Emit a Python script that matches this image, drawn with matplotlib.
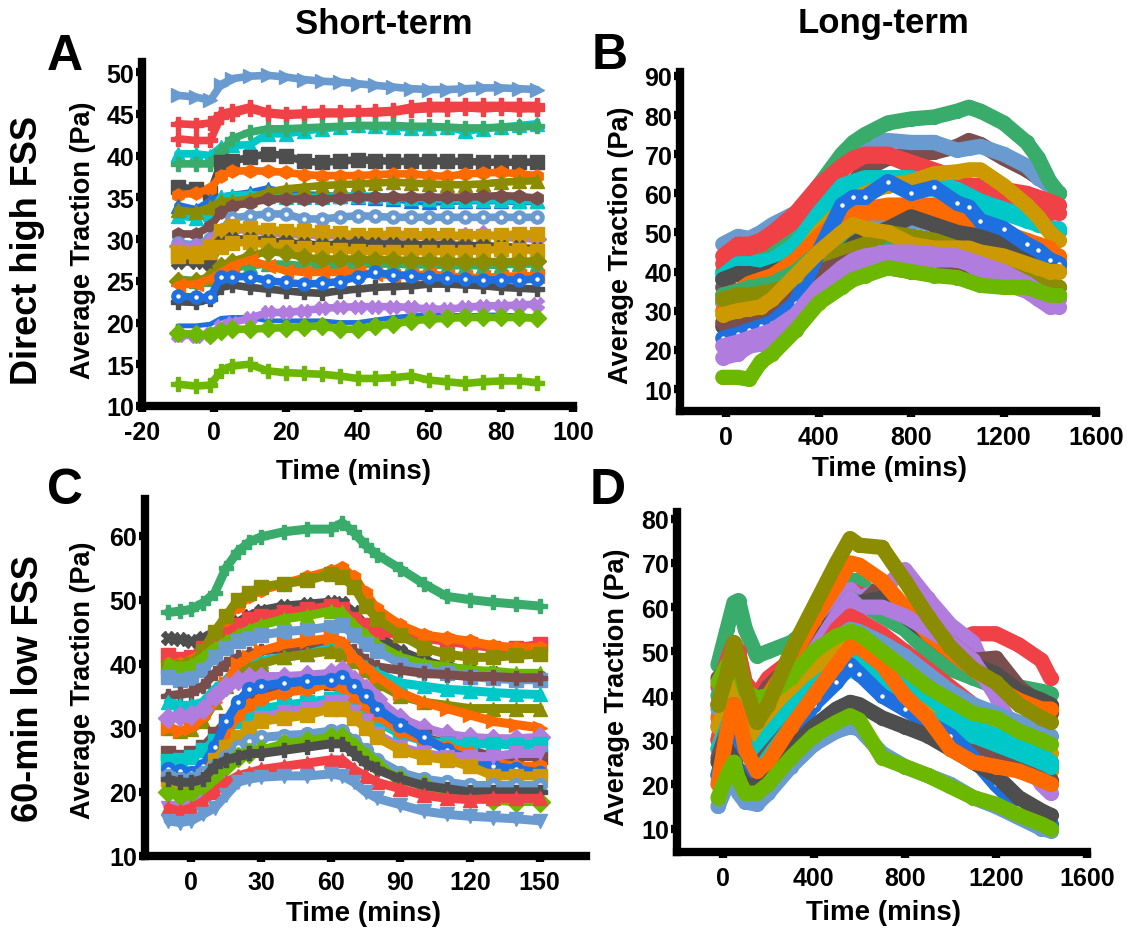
import matplotlib
matplotlib.use("Agg")
import matplotlib.pyplot as plt

plt.rcParams["font.family"] = ["Liberation Sans", "DejaVu Sans"]
plt.rcParams["font.weight"] = "bold"
plt.rcParams["axes.unicode_minus"] = False

W, H = 1131, 937

# ---------------- data ----------------
# Panel A: short-term, direct high FSS
t_a = [-10, -5, -1, 2, 5, 10, 15, 20, 25, 30, 35, 40, 45, 50, 55, 60, 65, 70, 75, 80, 85, 90]
a_series = [
    [47.2, 47.0, 46.6, 48.5, 49.2, 49.5, 49.6, 49.4, 49.1, 48.9, 48.8, 48.6, 48.4, 48.2, 48.0, 47.9, 47.9, 48.0, 48.1, 48.1, 48.0, 47.9],
    [42.0, 41.8, 41.8, 44.6, 45.0, 45.6, 45.0, 44.8, 44.9, 45.0, 45.0, 45.1, 45.1, 45.2, 45.5, 45.6, 45.6, 45.7, 45.6, 45.7, 45.6, 45.6],
    [43.8, 43.7, 43.9, 45.0, 45.3, 45.8, 45.2, 45.0, 45.1, 45.2, 45.2, 45.2, 45.3, 45.4, 45.8, 46.0, 46.0, 46.0, 46.0, 46.0, 46.0, 46.0],
    [40.2, 40.2, 40.0, 41.0, 41.2, 41.3, 42.6, 42.6, 42.9, 43.2, 43.4, 43.6, 43.5, 43.4, 43.3, 43.3, 43.4, 42.9, 43.2, 43.4, 43.6, 43.8],
    [39.0, 39.0, 39.0, 40.5, 42.0, 42.8, 43.2, 43.2, 43.3, 43.4, 43.5, 43.6, 43.6, 43.6, 43.5, 43.5, 43.4, 43.3, 43.3, 43.4, 43.4, 43.5],
    [36.2, 36.0, 35.5, 39.2, 39.3, 39.8, 40.2, 40.0, 39.3, 39.2, 39.3, 39.5, 39.4, 39.3, 39.3, 39.4, 39.3, 39.3, 39.2, 39.2, 39.2, 39.2],
    [35.3, 35.5, 36.0, 37.6, 38.1, 38.2, 38.1, 38.0, 37.7, 37.6, 37.6, 37.6, 37.7, 37.8, 37.8, 37.6, 37.5, 37.8, 37.9, 38.0, 37.8, 37.6],
    [34.0, 33.5, 34.5, 35.0, 35.2, 35.5, 36.0, 35.5, 35.3, 35.2, 35.1, 35.0, 34.9, 34.8, 34.6, 34.4, 34.5, 34.6, 34.6, 34.6, 34.5, 34.5],
    [32.8, 32.5, 33.0, 35.0, 35.2, 35.3, 35.2, 35.0, 35.0, 35.0, 35.1, 35.2, 35.1, 35.0, 34.9, 34.8, 34.7, 34.7, 34.7, 34.7, 34.6, 34.6],
    [33.5, 33.2, 33.8, 34.5, 34.5, 34.8, 35.6, 36.0, 36.2, 36.4, 36.5, 36.6, 36.7, 36.8, 36.7, 36.6, 36.5, 36.5, 36.6, 36.8, 36.9, 37.0],
    [30.6, 30.6, 31.5, 33.2, 34.0, 34.3, 34.8, 34.8, 34.8, 34.8, 34.9, 35.0, 35.0, 35.0, 35.0, 35.0, 35.0, 35.0, 35.1, 35.2, 35.1, 34.9],
    [29.5, 29.3, 30.0, 31.0, 32.5, 32.8, 33.0, 33.0, 32.4, 32.4, 32.6, 32.8, 32.7, 32.6, 32.6, 32.6, 32.6, 32.6, 32.6, 32.6, 32.6, 32.6],
    [29.2, 29.0, 29.6, 30.8, 31.2, 31.0, 30.8, 30.6, 30.5, 30.4, 30.4, 30.3, 30.3, 30.2, 30.3, 30.3, 30.2, 30.4, 30.6, 30.2, 30.1, 30.0],
    [28.5, 28.3, 29.0, 31.0, 31.5, 31.3, 31.1, 31.0, 30.9, 30.8, 30.7, 30.5, 30.5, 30.6, 30.5, 30.5, 30.5, 30.4, 30.4, 30.5, 30.6, 30.6],
    [27.3, 27.2, 27.0, 29.5, 30.0, 30.0, 29.8, 29.6, 29.4, 29.3, 29.4, 29.5, 29.4, 29.4, 29.3, 29.3, 29.3, 29.2, 29.2, 29.1, 29.0, 28.8],
    [28.0, 28.0, 28.5, 29.0, 29.5, 29.6, 29.3, 29.0, 28.9, 28.8, 28.7, 28.6, 28.5, 28.5, 28.5, 28.5, 28.5, 28.5, 28.6, 28.8, 28.7, 28.6],
    [25.2, 25.0, 25.2, 26.0, 26.5, 26.8, 27.0, 27.0, 26.8, 26.8, 26.8, 26.9, 27.0, 27.0, 26.9, 26.9, 26.8, 26.8, 26.8, 26.9, 27.0, 27.0],
    [25.0, 25.0, 25.5, 26.8, 27.3, 28.0, 28.5, 28.3, 27.8, 27.6, 27.6, 27.6, 27.5, 27.5, 27.4, 27.4, 27.3, 27.3, 27.3, 27.3, 27.3, 27.4],
    [24.5, 24.6, 25.2, 26.0, 26.8, 27.5, 26.8, 26.2, 26.0, 26.0, 26.0, 26.0, 25.8, 25.6, 25.7, 25.8, 25.6, 25.4, 25.4, 25.5, 25.6, 25.6],
    [22.5, 22.4, 22.8, 24.2, 24.5, 24.2, 24.0, 23.8, 23.6, 23.5, 23.8, 24.0, 24.2, 24.3, 24.4, 24.6, 24.6, 24.5, 24.4, 24.2, 24.1, 24.0],
    [23.2, 23.0, 23.0, 25.5, 25.5, 25.5, 25.0, 24.8, 24.6, 24.7, 24.9, 25.5, 26.0, 25.7, 25.6, 25.4, 25.3, 25.2, 25.1, 25.1, 25.1, 25.2],
    [19.6, 19.6, 19.8, 20.5, 20.6, 20.6, 20.2, 20.2, 20.2, 20.2, 20.0, 20.0, 20.3, 20.6, 20.8, 21.0, 20.9, 20.8, 20.9, 20.9, 20.8, 20.7],
    [18.5, 18.4, 18.6, 19.6, 20.0, 20.5, 21.2, 21.2, 21.4, 21.7, 21.8, 21.9, 21.9, 21.9, 21.8, 21.6, 21.6, 21.8, 22.0, 22.0, 22.1, 22.2],
    [18.7, 18.6, 18.5, 19.0, 19.2, 19.2, 19.3, 19.4, 19.5, 19.6, 19.2, 19.2, 19.6, 19.8, 20.2, 20.4, 20.5, 20.6, 20.6, 20.6, 20.6, 20.5],
    [12.6, 12.4, 12.5, 14.2, 14.8, 15.0, 14.2, 14.0, 13.9, 13.8, 13.6, 13.3, 13.3, 13.4, 13.6, 13.1, 12.9, 12.7, 12.9, 13.0, 13.0, 12.8],
]

# Panel B: long-term, direct high FSS
t_b = [-15, 50, 100, 150, 200, 300, 400, 500, 550, 600, 700, 800, 900, 1000, 1050, 1100, 1200, 1300, 1350, 1400, 1440]
b_series = [
    [36, 35, 35, 36, 38, 44, 52, 60, 63, 66, 69, 70, 70.5, 72, 73.5, 72.5, 69, 66, 64, 62, 60],
    [47, 49, 48.5, 50, 52, 55, 60, 68, 72, 73, 73.5, 73, 73, 71, 71.5, 72, 70, 67, 64, 62, 60],
    [40, 43, 44, 45, 46, 53, 62, 70, 73, 75, 78, 79, 79.5, 81, 82, 81, 78, 73, 69, 63, 60],
    [44, 47, 47, 48, 50, 55, 62, 67, 69, 70, 70, 68, 66, 64, 62, 62, 61, 60, 59, 58, 57],
    [42, 46, 46, 47, 49, 53, 60, 66, 68, 69.5, 69.5, 67, 64, 62, 61, 60, 59, 57.5, 56, 55, 55],
    [39, 42, 42, 42.5, 43, 47, 55, 62, 63, 64, 64, 64, 63, 61, 59.5, 58, 56, 54, 52.5, 51, 51],
    [38, 41, 41, 42, 43, 46, 52, 58, 60, 62, 63, 62, 61, 59, 58, 57, 55, 53, 52, 51, 50],
    [32, 33, 34, 35, 36, 42, 50, 56, 58, 60, 62, 63, 65, 65.5, 66, 66, 62, 57, 54, 50, 48],
    [38, 39.5, 39.5, 39, 40, 42, 45, 48, 49, 50, 50, 49, 48, 47, 46.5, 46, 45, 44, 43.5, 43, 43],
    [32, 33, 33, 33.5, 35, 39, 45, 49, 51, 52, 54, 53, 52, 50, 49, 48, 46, 44, 43, 42, 41],
    [34, 35, 37, 38, 39, 43, 49, 54, 55, 56, 57, 57, 57, 54, 53, 52, 50, 48, 47, 46, 43],
    [30, 31, 32, 33, 35, 40, 47, 52, 54, 55, 55, 54, 53, 52, 51, 50, 49, 47, 46, 45, 44],
    [34, 35, 36, 36.5, 37, 40, 45, 48, 49, 50, 48, 46, 45, 44, 43, 42, 41, 39, 38, 37, 36],
    [26, 27, 28, 28.5, 29, 33, 40, 44, 47, 49, 51, 54, 52, 50, 49.5, 49, 47, 45, 44, 43, 42],
    [33, 34, 34, 34.5, 35, 37, 42, 45, 46, 47, 50, 49, 48, 46, 45, 44, 43, 40, 39, 37, 36],
    [27, 28, 29, 30, 31, 35, 40, 42, 43, 42, 41, 40, 40, 39, 38, 38, 37, 36, 35, 34, 34],
    [23, 24, 25, 26, 27, 32, 45, 57, 59, 59, 63, 60, 61.5, 57.5, 56.5, 53, 51, 47, 45.5, 43, 42],
    [29, 30, 30.5, 31, 33, 39, 45, 50, 52, 51, 50, 47, 46, 46, 46, 45, 44, 42, 41, 40, 40],
    [21, 22, 23, 24, 25, 29, 36, 41, 43, 44, 45, 45, 44.5, 44, 43, 42, 40, 37, 35, 34, 33],
    [18, 19, 21, 21.5, 22, 25, 33, 38, 40, 41, 43, 43.5, 43, 43, 42, 40, 37, 35, 33, 31, 31],
    [13, 13, 12.5, 17, 19, 25, 32, 36, 38, 39, 41, 40, 39, 38.5, 37.5, 36.5, 36, 36, 35, 34, 34],
]

# Panel C: short-term, 60-min low FSS
t_c = [-10, -5, 0, 5, 10, 15, 20, 25, 30, 40, 50, 60, 65, 70, 75, 80, 90, 100, 110, 120, 130, 140, 150]
c_series = [
    [48, 48.2, 48.5, 49.5, 51, 55, 57.5, 59, 59.8, 60.6, 61, 61, 62, 60.5, 58.5, 57, 54.8, 52.5, 50.5, 50, 49.6, 49.3, 49],
    [44, 43.8, 43.5, 44, 45, 46, 46.5, 47.5, 48.3, 49, 49.3, 49.6, 49.5, 48, 46, 44.5, 42, 40.5, 39.5, 39, 38.5, 38, 37.8],
    [41.3, 40.8, 41, 42.5, 44, 45, 46, 47, 47.5, 48, 48.5, 49, 48.5, 47, 46, 45, 44.5, 44, 43.5, 43, 42.5, 42.5, 43],
    [40, 40, 40.5, 42, 45, 47, 49, 50.5, 51.5, 52.5, 53.5, 54.5, 55, 53.5, 51, 48.5, 46, 44.5, 44, 43.5, 42.8, 42.5, 42.5],
    [39.5, 39.5, 40, 42, 45, 47.5, 50, 51, 52, 52.5, 53, 54, 53.5, 52, 49, 47, 44.5, 42.5, 41.5, 41, 41, 41.3, 41.5],
    [40, 39.5, 39.8, 41, 42.5, 43.5, 44.5, 45.3, 46, 47, 47.5, 48.2, 48, 46, 44.5, 43, 41, 40, 39.5, 39, 38.8, 38.5, 38.5],
    [38, 37.5, 37.8, 39, 41, 42.5, 43.5, 44, 44.5, 45, 45.3, 45.8, 46, 44.5, 43, 42, 40, 39, 38.5, 38, 37.7, 37.5, 37.5],
    [35, 35.2, 35.5, 36.5, 38.5, 40, 41, 41.5, 42, 42.3, 42.5, 42.8, 43, 42, 40.5, 39.5, 39, 38.5, 38.3, 38, 38, 37.8, 37.8],
    [34, 33.5, 33.5, 34, 36, 37.5, 39, 40, 40.5, 41, 41.5, 42.5, 43, 41, 39.5, 38.5, 37, 36.5, 36, 35.8, 35.5, 35.3, 35.2],
    [30, 29.5, 29.8, 31, 34, 36.5, 38.5, 39.3, 40, 41, 41.5, 42, 41.5, 40.5, 39, 37, 35, 34, 33.5, 33, 33, 33, 33],
    [30, 29.5, 30, 31.5, 34, 37, 40, 41, 42, 43, 43.5, 44, 43.5, 41, 39.5, 38, 35.5, 34, 33, 32, 31, 30.5, 30],
    [31.5, 31.8, 32, 33, 35, 36.5, 37.5, 38, 38, 38, 38.2, 38.5, 39, 37.5, 36, 34.5, 31.5, 30, 29, 28.5, 28.3, 28.3, 28.5],
    [26, 25.5, 26, 27, 29, 31, 33, 34, 35, 36, 36.5, 37, 36.5, 35.5, 34, 32, 30, 28.5, 27.5, 26.5, 25.5, 25.5, 25.5],
    [24.8, 25, 25.5, 26.5, 28, 29.5, 31, 32, 33, 33.5, 34, 34.5, 35, 34, 32.5, 31, 29, 28, 27.5, 27.5, 27.5, 27.3, 27.5],
    [21, 20.5, 20.5, 22, 25, 29, 32, 33.5, 34.5, 35.5, 36, 37, 36.5, 35, 33.5, 32, 29.5, 28, 27, 26, 24.5, 24, 24],
    [23.5, 23.2, 23, 24, 27, 31, 34, 36, 36.5, 37, 37.3, 37.5, 38, 36.5, 35, 33, 30.5, 28.5, 26.5, 25, 24, 23.5, 23],
    [17.5, 17.5, 18, 19, 21, 24, 28, 30, 31.5, 32.5, 33, 34, 34, 32.5, 31, 29, 27, 26, 25.5, 25.5, 25.5, 26, 26],
    [22, 21.5, 21.5, 22.5, 25, 27, 28.5, 30, 31, 31.5, 32, 33, 33, 31.5, 30, 28.5, 26.5, 25.5, 25, 24, 22.5, 22.5, 22.5],
    [22.5, 22, 22, 23, 24, 25.5, 27, 28, 28.5, 28.8, 29, 29.5, 29.5, 28, 26.5, 25, 23, 22, 21.5, 21, 21, 21, 21],
    [20, 19.5, 20, 21, 22, 24, 25.5, 26, 26.5, 27.5, 28, 28.5, 28.5, 27, 25.5, 24, 22, 21, 19.5, 19, 18.7, 18.5, 18.5],
    [22, 21.5, 21.5, 22, 24, 25, 25.5, 26, 26, 26.5, 27, 27.5, 27.5, 26, 24.5, 23.5, 22, 21, 20.5, 20, 20, 20, 20],
    [17.5, 17, 17.5, 18.5, 20, 21.5, 22.5, 23, 23.5, 24, 24.5, 25, 25, 23.5, 22.5, 21.5, 20.5, 19.5, 19, 18.8, 19, 19, 19],
    [15.5, 15.2, 15.5, 16.5, 17.5, 19.5, 21.5, 22, 22.3, 22.5, 22.5, 22.8, 22.5, 21.5, 20, 19, 18, 17, 16.5, 16.2, 16, 15.8, 15.5],
]

# Panel D: long-term, 60-min low FSS
t_d = [-20, 20, 50, 70, 100, 150, 200, 300, 400, 500, 560, 600, 700, 800, 900, 1000, 1100, 1200, 1300, 1400, 1440]
d_series = [
    [47, 55, 61, 61.5, 55, 49, 50, 52, 56, 63, 66, 66, 60, 57, 52, 48, 46, 44, 42, 41, 40.5],
    [42, 48, 52, 50, 43, 40, 44, 48, 55, 62, 64, 63, 61, 59, 55, 52, 54, 54, 51.5, 48, 44],
    [33, 45, 49, 45, 38, 33, 37, 46, 55, 62, 64, 62, 64, 68.5, 62, 56, 52, 40, 28, 20, 18],
    [44, 46, 48, 46, 41, 38, 42, 47, 52, 56, 59, 60, 65, 60, 55, 52, 48, 48.5, 42, 38, 36],
    [40, 45, 48, 46, 40, 36, 39, 45, 52, 58, 62, 61, 58, 55, 50, 46, 44, 42, 40, 39, 38],
    [38, 42, 45, 43, 38, 35, 38, 44, 52, 58, 61, 61, 62, 58, 54, 50, 47, 45, 41, 39, 38],
    [35, 45, 50, 47, 40, 36, 40, 48, 57, 65, 70, 69.5, 66, 60, 54, 50, 46, 42, 39, 37, 37],
    [30, 38, 42, 40, 34, 30, 34, 42, 50, 58, 62, 60, 60, 58, 55, 52, 48, 40, 30, 22, 20],
    [30, 40, 44, 42, 35, 30, 33, 40, 47, 55, 58, 57, 54, 50, 46, 42, 38, 34, 30, 27, 25],
    [37, 40, 44, 42, 36, 33, 36, 43, 49, 53, 55, 54.5, 52, 49, 45, 41, 38, 36, 34, 32, 31],
    [33, 38, 42, 40, 34, 31, 35, 41, 47, 52, 54, 53, 50, 46, 42, 38, 35, 32, 30, 28, 27],
    [28, 34, 37, 35, 29, 26, 30, 38, 44, 48, 49, 50, 47, 43, 38, 34, 30, 28, 27, 25, 23],
    [28, 33, 37, 34, 29, 27, 31, 37, 42, 46, 48, 48, 46, 42, 40, 36, 33, 31, 30, 27, 25],
    [26, 32, 35, 33, 27, 24, 27, 33, 39, 44, 46, 45, 41, 38, 34, 31, 29, 27, 24, 22, 21],
    [22, 30, 34, 32, 26, 22, 26, 33, 39, 44, 46, 45, 42, 39, 35, 33, 31, 29, 27, 25, 24],
    [22, 30, 38, 33, 25, 21, 23, 30, 38, 43, 47, 45, 40, 37, 34, 31, 26, 20, 15, 12, 11],
    [25, 28, 25, 22, 20, 19.5, 22, 28, 33, 37, 38.5, 38, 35, 33, 31, 28, 25, 22, 17, 14, 13],
    [20, 32, 38, 36, 28, 23, 25, 33, 40, 47, 51, 51, 47, 40, 35, 28, 25, 24, 23, 21, 20],
    [15, 20, 24, 18, 16, 15.5, 18, 24, 29, 32, 33, 32.5, 27, 24, 22, 20, 17, 15, 12.5, 10, 9.5],
    [17, 22, 25, 21, 18, 18, 20, 26, 31, 34, 35.5, 34.5, 26, 24, 22, 19.5, 17, 15.5, 13, 11, 10],
    [43, 47, 49, 46, 41, 39.5, 40, 44, 50, 53.5, 54.5, 54, 50, 46, 42, 39, 36, 35, 32, 30, 29],
    [38, 45, 52, 48, 42, 34, 38, 50, 60, 70, 75.5, 74, 73.5, 66, 58, 51, 46, 43, 38, 35, 34],
]

# ---------------- styles ----------------
COL = {
    "ltblue": "#6A9BD0", "red": "#EF4146", "green": "#39AC6C", "cyan": "#00C8C8",
    "grey": "#4E4E4E", "orange": "#FF6A00", "blue": "#1E6FDF", "olive": "#8C8C00",
    "brown": "#7B4E4E", "purple": "#B07CDD", "gold": "#CC9A00", "lime": "#6CB800",
}

a_styles = [
    ("ltblue", ">"), ("red", "P"), ("red", "P"), ("cyan", "^"), ("green", "P"),
    ("grey", "s"), ("orange", "h"), ("blue", "^"), ("cyan", "^"), ("olive", "^"),
    ("brown", "h"), ("ltblue", "dot"), ("purple", "D"), ("gold", "s"), ("grey", "X"),
    ("gold", "s"), ("green", "^"), ("olive", "D"), ("orange", "<"), ("grey", "P"),
    ("blue", "dot"), ("blue", "line"), ("purple", "X"), ("lime", "D"), ("lime", "P"),
]
b_styles = ["brown", "ltblue", "green", "red", "red", "cyan", "cyan", "gold", "grey",
            "ltblue", "orange", "orange", "green", "grey", "olive", "brown", "blue*",
            "gold", "purple", "purple", "lime"]
c_styles = [
    ("green", "P"), ("grey", "X"), ("red", "s"), ("orange", "h"), ("olive", "s"),
    ("lime", "^"), ("ltblue", "s"), ("brown", "P"), ("cyan", "^"), ("olive", "^"),
    ("orange", ">"), ("purple", "D"), ("brown", "s"), ("cyan", "s"), ("orange", "h"),
    ("blue", "dot"), ("purple", "v"), ("gold", "s"), ("ltblue", "dot"), ("lime", "D"),
    ("grey", "P"), ("red", "^"), ("ltblue", "v"),
]
d_styles = ["green", "red", "purple", "brown", "green", "grey", "orange", "purple",
            "red", "ltblue", "gold", "gold", "cyan", "brown", "cyan", "blue*", "grey",
            "orange", "ltblue", "lime", "lime", "olive"]


def px_axes(fig, left, right, top, bottom):
    return fig.add_axes([left / W, 1 - bottom / H, (right - left) / W, (bottom - top) / H])


def style_axes(ax, xlim, ylim, xticks, yticks):
    ax.set_xlim(*xlim)
    ax.set_ylim(*ylim)
    ax.set_xticks(xticks)
    ax.set_yticks(yticks)
    for s in ("top", "right"):
        ax.spines[s].set_visible(False)
    for s in ("left", "bottom"):
        ax.spines[s].set_linewidth(6)
        ax.spines[s].set_capstyle("projecting")
    ax.tick_params(direction="out", length=4, width=6, labelsize=18)
    ax.tick_params(axis="x", pad=6)
    ax.tick_params(axis="y", pad=1.5)
    for lab in ax.get_xticklabels() + ax.get_yticklabels():
        lab.set_fontweight("bold")


def draw_marked(ax, t, series, styles, lw, ms):
    for y, (c, m) in zip(series, styles):
        col = COL[c]
        if m == "line":
            ax.plot(t, y, color=col, lw=3.5, solid_capstyle="round")
            continue
        mk = "o" if m == "dot" else m
        ax.plot(t, y, color=col, lw=lw, marker=mk, ms=ms, mec=col, mfc=col,
                solid_capstyle="round", solid_joinstyle="round")
        if m == "dot":
            ax.plot(t, y, ls="none", marker="o", ms=2.2, mfc="white", mec="white")


def draw_bands(ax, t, series, styles, lw):
    for y, c in zip(series, styles):
        dotted = c.endswith("*")
        col = COL[c.rstrip("*")]
        ax.plot(t, y, color=col, lw=lw, marker="o", ms=lw * 0.9, mec=col, mfc=col,
                solid_capstyle="round", solid_joinstyle="round")
        if dotted:
            ax.plot(t, y, ls="none", marker="o", ms=2.2, mfc="white", mec="white")


fig = plt.figure(figsize=(W / 100, H / 100), dpi=100)

# A
ax_a = px_axes(fig, 142, 573, 63, 407)
draw_marked(ax_a, t_a, a_series, a_styles, 5.5, 9.5)
style_axes(ax_a, (-20, 100), (10, 51.2), range(-20, 101, 20), range(10, 51, 5))

# B
ax_b = px_axes(fig, 680, 1096, 73, 412)
draw_bands(ax_b, t_b, b_series, b_styles, 11)
style_axes(ax_b, (-200, 1600), (4.4, 91), range(0, 1601, 400), range(10, 91, 10))

# C
ax_c = px_axes(fig, 145, 586, 500, 857)
draw_marked(ax_c, t_c, c_series, c_styles, 6.5, 10)
style_axes(ax_c, (-20, 170), (10, 65.7), range(0, 151, 30), range(10, 61, 10))

# D
ax_d = px_axes(fig, 677, 1087, 513, 853)
draw_bands(ax_d, t_d, d_series, d_styles, 11)
style_axes(ax_d, (-200, 1600), (4.7, 81.5), range(0, 1601, 400), range(10, 81, 10))


def ftext(x, y, s, size, rot=0):
    fig.text(x / W, 1 - y / H, s, fontsize=size, fontweight="bold",
             ha="center", va="center", rotation=rot)


ftext(384, 24, "Short-term", 25)
ftext(884, 24, "Long-term", 25)
ftext(65, 57, "A", 36)
ftext(610, 56, "B", 36)
ftext(65, 491, "C", 36)
ftext(608, 491, "D", 36)
ftext(28, 251, "Direct high FSS", 26, 90)
ftext(29, 689, "60-min low FSS", 26, 90)
ftext(83, 240, "Average Traction (Pa)", 19.5, 90)
ftext(621, 245, "Average Traction (Pa)", 19.5, 90)
ftext(83, 680, "Average Traction (Pa)", 19.5, 90)
ftext(617, 687, "Average Traction (Pa)", 19.5, 90)
ftext(354, 472, "Time (mins)", 20)
ftext(889, 469, "Time (mins)", 20)
ftext(363, 914, "Time (mins)", 20)
ftext(884, 913, "Time (mins)", 20)

fig.savefig("out.png", dpi=100)
